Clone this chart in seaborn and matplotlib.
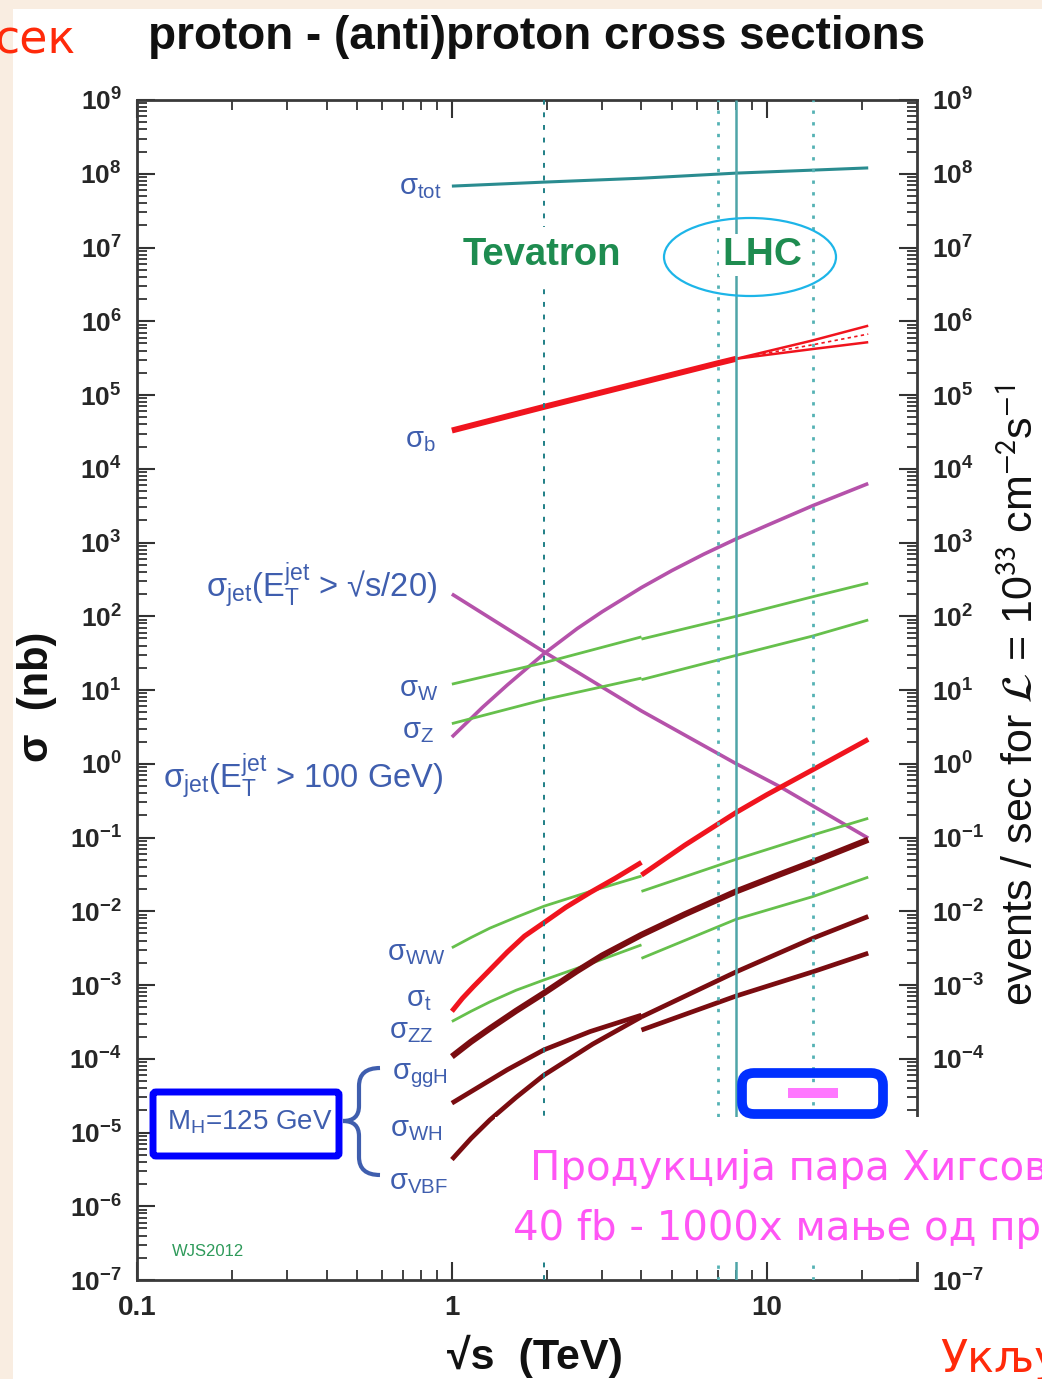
import numpy as np
import pandas as pd
import matplotlib
matplotlib.use("Agg")
import matplotlib.pyplot as plt
import seaborn as sns
from matplotlib.patches import Rectangle, FancyBboxPatch, Ellipse, PathPatch
from matplotlib.path import Path
from matplotlib.transforms import Affine2D
from matplotlib.ticker import FixedLocator, LogLocator, NullFormatter, FixedFormatter

# ---------------- cross sections (nb) versus sqrt(s) (TeV) ----------------
sqrts_tot = [1.0, 1.96, 4.0, 8.0, 14.0, 21.0]
sigma_tot = [6.8e7, 7.7e7, 8.7e7, 1.02e8, 1.12e8, 1.2e8]

sqrts_b = [1.0, 1.96, 4.0, 7.0, 8.0]
sigma_b = [3.3e4, 6.9e4, 1.48e5, 2.7e5, 3.1e5]
sqrts_b_band = [8.0, 14.0, 21.0]
sigma_b_hi = [3.1e5, 5.5e5, 8.7e5]
sigma_b_mid = [3.1e5, 4.8e5, 6.7e5]
sigma_b_lo = [3.1e5, 4.2e5, 5.2e5]

sqrts_jet100 = [1.0, 1.25, 1.5, 1.96, 2.5, 3.0, 4.0, 5.0, 6.3, 8.0, 10.0, 14.0, 21.0]
sigma_jet100 = [2.3, 5.8, 11.7, 31.0, 68.0, 115.0, 245.0, 417.0, 692.0, 1120.0, 1700.0, 3160.0, 6300.0]
sqrts_jet20 = [1.0, 1.96, 4.0, 8.0, 11.0, 21.0]
sigma_jet20 = [200.0, 33.0, 5.2, 1.0, 0.49, 0.098]

# proton-antiproton below 4 TeV, proton-proton above
sqrts_ppbar = [1.0, 1.96, 4.0]
sqrts_pp = [4.0, 8.0, 14.0, 21.0]
sigma_w_ppbar = [12.0, 23.4, 52.5]
sigma_w_pp = [49.0, 100.0, 184.0, 282.0]
sigma_z_ppbar = [3.5, 7.4, 14.5]
sigma_z_pp = [13.8, 29.5, 54.0, 89.0]

sqrts_t_ppbar = [1.0, 1.08, 1.17, 1.3, 1.5, 1.7, 1.96, 2.3, 2.75, 3.3, 4.0]
sigma_t_ppbar = [4.4e-4, 6.6e-4, 9.5e-4, 1.5e-3, 2.8e-3, 4.6e-3, 7.0e-3,
                 1.13e-2, 1.8e-2, 2.8e-2, 4.6e-2]
sqrts_t_pp = [4.0, 5.5, 8.0, 10.0, 14.0, 21.0]
sigma_t_pp = [0.031, 0.079, 0.219, 0.38, 0.83, 2.14]

sqrts_vv_ppbar = [1.0, 1.15, 1.32, 1.6, 1.96, 2.8, 4.0]
sigma_ww_ppbar = [3.2e-3, 4.4e-3, 5.9e-3, 8.3e-3, 1.17e-2, 1.9e-2, 3.0e-2]
sigma_ww_pp = [0.0186, 0.0507, 0.108, 0.182]
sigma_zz_ppbar = [3.2e-4, 4.4e-4, 5.9e-4, 8.5e-4, 1.17e-3, 2.0e-3, 3.5e-3]
sigma_zz_pp = [2.3e-3, 7.8e-3, 1.58e-2, 2.9e-2]

# Higgs production, M_H = 125 GeV
sqrts_ggh = [1.0, 1.15, 1.32, 1.6, 1.96, 2.5, 3.0, 4.0, 5.5, 8.0, 11.0, 14.0, 21.0]
sigma_ggh = [1.07e-4, 1.70e-4, 2.57e-4, 4.47e-4, 7.76e-4, 1.55e-3, 2.51e-3,
             4.79e-3, 9.12e-3, 1.86e-2, 3.16e-2, 4.68e-2, 9.33e-2]
sqrts_wh_ppbar = [1.0, 1.5, 1.96, 2.75, 4.0]
sigma_wh_ppbar = [2.5e-5, 7.1e-5, 1.32e-4, 2.34e-4, 3.9e-4]
sigma_wh_pp = [2.45e-4, 7.1e-4, 1.51e-3, 2.7e-3]
sigma_vbf_ppbar = [4.3e-6, 8.3e-6, 1.48e-5, 3.0e-5, 6.0e-5, 1.58e-4, 3.7e-4]
sigma_vbf_pp = [3.7e-4, 1.51e-3, 4.3e-3, 8.5e-3]

# collider energies (TeV): Tevatron, LHC 7, LHC 8, LHC 14
collider_sqrts = [1.96, 7.0, 8.0, 14.0]

x_ticks = [0.1, 1, 10]
x_ticklabels = ["0.1", "1", "10"]
y_exponents = list(range(-7, 10))

# ---------------- styling ----------------
sns.set_theme(style="white")
plt.rcParams["font.family"] = ["Liberation Sans", "DejaVu Sans"]
plt.rcParams["mathtext.fontset"] = "custom"
plt.rcParams["mathtext.rm"] = "Liberation Sans"
plt.rcParams["mathtext.it"] = "Liberation Sans:italic"
plt.rcParams["mathtext.bf"] = "Liberation Sans:bold"
plt.rcParams["mathtext.sf"] = "Liberation Sans"
plt.rcParams["lines.solid_capstyle"] = "butt"

C_TEAL = "#2a8c90"
C_RED = "#f0141e"
C_PURPLE = "#b552aa"
C_GREEN = "#66c04c"
C_BROWN = "#7a0c10"
C_LABEL = "#3f5eae"
C_TEXTGREEN = "#1e8c50"

W, H, DPI = 1042, 1379, 100
fig = plt.figure(figsize=(W / DPI, H / DPI), dpi=DPI)
fig.patch.set_facecolor("#f9ede1")
# pixel coordinates measured from the top-left corner
px = Affine2D().scale(1, -1).translate(0, H) + Affine2D().scale(1 / DPI) + fig.dpi_scale_trans

fig.add_artist(Rectangle((13, 9), W, H, transform=px, facecolor="white",
                         edgecolor="none", zorder=-10))

ax = fig.add_axes([137 / W, 1 - 1280 / H, (917 - 137) / W, (1280 - 100) / H])
ax.set_facecolor("none")
ax.set_xscale("log")
ax.set_yscale("log")
ax.set_xlim(0.1, 30)
ax.set_ylim(1e-7, 1e9)

# ---------------- curves ----------------
segments = [
    ("tot", sqrts_tot, sigma_tot, C_TEAL, 2.2, "-"),
    ("b", sqrts_b, sigma_b, C_RED, 4.3, "-"),
    ("b_hi", sqrts_b_band, sigma_b_hi, C_RED, 1.8, "-"),
    ("b_lo", sqrts_b_band, sigma_b_lo, C_RED, 1.8, "-"),
    ("b_mid", sqrts_b_band, sigma_b_mid, C_RED, 1.2, (0, (2, 2))),
    ("jet100", sqrts_jet100, sigma_jet100, C_PURPLE, 2.6, "-"),
    ("jet20", sqrts_jet20, sigma_jet20, C_PURPLE, 2.6, "-"),
    ("w_ppbar", sqrts_ppbar, sigma_w_ppbar, C_GREEN, 2.0, "-"),
    ("w_pp", sqrts_pp, sigma_w_pp, C_GREEN, 2.0, "-"),
    ("z_ppbar", sqrts_ppbar, sigma_z_ppbar, C_GREEN, 2.0, "-"),
    ("z_pp", sqrts_pp, sigma_z_pp, C_GREEN, 2.0, "-"),
    ("ww_ppbar", sqrts_vv_ppbar, sigma_ww_ppbar, C_GREEN, 2.0, "-"),
    ("ww_pp", sqrts_pp, sigma_ww_pp, C_GREEN, 2.0, "-"),
    ("zz_ppbar", sqrts_vv_ppbar, sigma_zz_ppbar, C_GREEN, 2.0, "-"),
    ("zz_pp", sqrts_pp, sigma_zz_pp, C_GREEN, 2.0, "-"),
    ("t_ppbar", sqrts_t_ppbar, sigma_t_ppbar, C_RED, 3.6, "-"),
    ("t_pp", sqrts_t_pp, sigma_t_pp, C_RED, 3.6, "-"),
    ("ggh", sqrts_ggh, sigma_ggh, C_BROWN, 4.4, "-"),
    ("wh_ppbar", sqrts_wh_ppbar, sigma_wh_ppbar, C_BROWN, 3.4, "-"),
    ("wh_pp", sqrts_pp, sigma_wh_pp, C_BROWN, 3.4, "-"),
    ("vbf_ppbar", sqrts_vv_ppbar, sigma_vbf_ppbar, C_BROWN, 3.4, "-"),
    ("vbf_pp", sqrts_pp, sigma_vbf_pp, C_BROWN, 3.4, "-"),
]

frames = [pd.DataFrame({"sqrt_s": xs, "sigma": ys, "segment": name})
          for name, xs, ys, *_ in segments]
df = pd.concat(frames, ignore_index=True)

for name, _, _, color, lw, ls in segments:
    sns.lineplot(data=df[df["segment"] == name], x="sqrt_s", y="sigma", ax=ax,
                 color=color, linewidth=lw, linestyle=ls, estimator=None,
                 sort=False, legend=False, zorder=2)

# collider energy markers
line_styles = {1.96: ("#1f7f86", 1.4, (0, (2.5, 4))),
               7.0: ("#55b2b4", 2.0, (0, (1.2, 3))),
               8.0: ("#4fa5a8", 1.8, "-"),
               14.0: ("#55b2b4", 2.0, (0, (1.2, 3)))}
for e in collider_sqrts:
    c, lw, ls = line_styles[e]
    ax.axvline(e, color=c, lw=lw, linestyle=ls, zorder=3)

# ---------------- axes and ticks ----------------
for sp in ax.spines.values():
    sp.set_color("#3a3a3a")
    sp.set_linewidth(2.0)

ax.xaxis.set_major_locator(FixedLocator(x_ticks))
ax.xaxis.set_major_formatter(FixedFormatter(x_ticklabels))
ax.xaxis.set_minor_locator(LogLocator(base=10, subs=np.arange(2, 10), numticks=50))
ax.xaxis.set_minor_formatter(NullFormatter())
ax.yaxis.set_major_locator(FixedLocator([10.0 ** k for k in y_exponents]))
ax.yaxis.set_major_formatter(FixedFormatter([r"$\mathbf{10^{%d}}$" % k for k in y_exponents]))
ax.yaxis.set_minor_locator(LogLocator(base=10, subs=np.arange(2, 10), numticks=100))
ax.yaxis.set_minor_formatter(NullFormatter())

ax.tick_params(which="both", direction="in", top=True, right=True, bottom=True,
               left=True, labelright=True, labelleft=True, color="#333333")
ax.tick_params(which="major", length=13, width=1.5)
ax.tick_params(which="minor", length=7, width=1.3)
ax.tick_params(axis="y", which="major", pad=11, labelsize=19)
ax.tick_params(axis="x", which="major", pad=11, labelsize=20)
for lab in ax.get_xticklabels():
    lab.set_fontweight("bold")
ax.set_xlabel("")
ax.set_ylabel("")

# ---------------- texts ----------------
fig.text(537, 37, "proton - (anti)proton cross sections", transform=px,
         ha="center", va="center", fontsize=33, fontweight="bold", color="#111111")
fig.text(535, 1356, "√s  (TeV)", transform=px, ha="center", va="center",
         fontsize=31, fontweight="bold", color="#111111")
fig.text(37, 697, "σ  (nb)", transform=px, ha="center", va="center", rotation=90,
         fontsize=30, fontweight="bold", color="#111111")
fig.text(1021, 695,
         r"events / sec for $\mathcal{L}$ = 10$^{33}$ cm$^{-2}$s$^{-1}$",
         transform=px, ha="center", va="center", rotation=90, fontsize=31,
         color="#111111", math_fontfamily="stixsans")

series_labels = [
    (r"σ$_{\rm tot}$", 442, 187, 21),
    (r"σ$_{\rm b}$", 436, 440, 21),
    (r"σ$_{\rm jet}$(E$_{\rm T}^{\rm jet}$ > √s/20)", 437, 585, 23.5),
    (r"σ$_{\rm W}$", 438, 689, 21),
    (r"σ$_{\rm Z}$", 434, 731, 21),
    (r"σ$_{\rm jet}$(E$_{\rm T}^{\rm jet}$ > 100 GeV)", 443, 776, 23.5),
    (r"σ$_{\rm WW}$", 446, 953, 21),
    (r"σ$_{\rm t}$", 432, 999, 21),
    (r"σ$_{\rm ZZ}$", 433, 1031, 21),
    (r"σ$_{\rm ggH}$", 448, 1076, 21),
    (r"σ$_{\rm WH}$", 442, 1129, 21),
    (r"σ$_{\rm VBF}$", 448, 1182, 21),
]
for s, x, y, fs in series_labels:
    fig.text(x, y, s, transform=px, ha="right", va="center", fontsize=fs,
             color=C_LABEL, zorder=4)

fig.text(250, 1122, r"M$_{\rm H}$=125 GeV", transform=px, ha="center", va="center",
         fontsize=20, color=C_LABEL, zorder=6)
fig.text(208, 1252, "WJS2012", transform=px, ha="center", va="center",
         fontsize=12, color="#2e9a5a", zorder=4)

fig.text(542, 255, "Tevatron", transform=px, ha="center", va="center", fontsize=27.5,
         fontweight="bold", color=C_TEXTGREEN, zorder=6,
         bbox=dict(boxstyle="square,pad=0.25", facecolor="white", edgecolor="none"))
fig.text(762, 255, "LHC", transform=px, ha="center", va="center", fontsize=28,
         fontweight="bold", color=C_TEXTGREEN, zorder=6,
         bbox=dict(boxstyle="square,pad=0.08", facecolor="white", edgecolor="none"))

# brace grouping the Higgs channels
brace = Path(
    [(380, 1068),
     (359, 1068), (359, 1086),
     (359, 1106),
     (359, 1121), (343, 1121),
     (359, 1121), (359, 1136),
     (359, 1157),
     (359, 1175), (380, 1175)],
    [Path.MOVETO,
     Path.CURVE3, Path.CURVE3,
     Path.LINETO,
     Path.CURVE3, Path.CURVE3,
     Path.CURVE3, Path.CURVE3,
     Path.LINETO,
     Path.CURVE3, Path.CURVE3])
fig.add_artist(PathPatch(brace, transform=px, facecolor="none", edgecolor=C_LABEL,
                         lw=3.0, zorder=6))

# ---------------- slide overlays ----------------
fig.add_artist(Ellipse((750, 257), 172, 78, transform=px, facecolor="none",
                       edgecolor="#1db5e8", lw=1.6, zorder=7))
fig.add_artist(FancyBboxPatch((153, 1092), 186, 64, boxstyle="round,pad=0,rounding_size=3",
                              transform=px, facecolor="none", edgecolor="#0000ff",
                              lw=5.0, zorder=7))
fig.add_artist(Rectangle((495, 1117), W, 145, transform=px, facecolor="white",
                         edgecolor="none", zorder=5))
fig.add_artist(FancyBboxPatch((742, 1073), 141, 41, boxstyle="round,pad=0,rounding_size=12",
                              transform=px, facecolor="none", edgecolor="#0030ff",
                              lw=7.0, zorder=7))
fig.add_artist(Rectangle((788, 1088), 50, 10, transform=px, facecolor="#ff77ff",
                         edgecolor="none", zorder=7))

fig.text(530, 1180, "Продукција пара Хигсов", transform=px, ha="left", va="baseline",
         fontsize=29, color="#ff55f5", family=["DejaVu Sans"], zorder=8)
fig.text(513, 1240, "40 fb - 1000x мање од пр", transform=px, ha="left", va="baseline",
         fontsize=29, color="#ff55f5", family=["DejaVu Sans"], zorder=8)
fig.text(76, 53, "сек", transform=px, ha="right", va="baseline", fontsize=33,
         color="#ff2a0a", family=["DejaVu Sans"], zorder=8)
fig.text(940, 1372, "Укљу", transform=px, ha="left", va="baseline", fontsize=32,
         color="#ff2a0a", family=["DejaVu Sans"], zorder=8)

fig.savefig("out.png", dpi=DPI, facecolor=fig.get_facecolor())
